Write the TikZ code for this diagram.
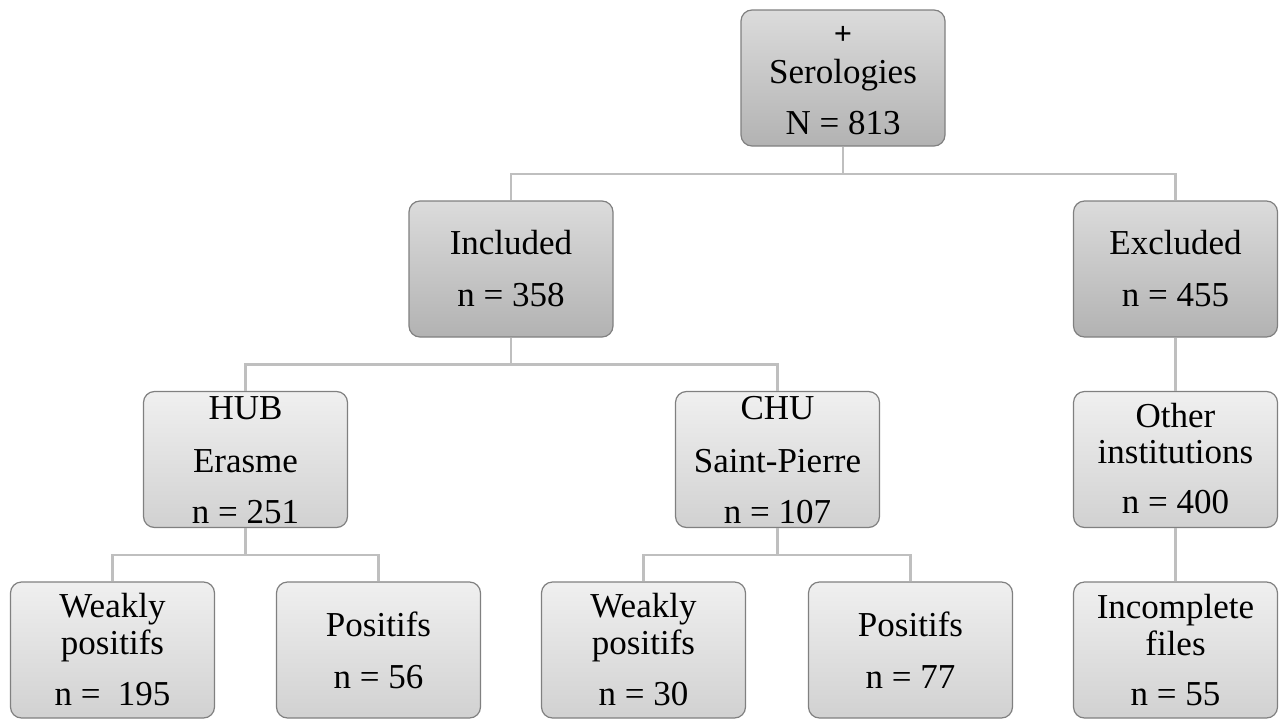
\documentclass[tikz,border=0pt]{standalone}
\usepackage{fontspec}
\setmainfont{Liberation Serif}
\begin{document}
\begin{tikzpicture}[x=1pt,y=-1pt,
  boxA/.style={draw=black!50, line width=1.2pt, rounded corners=11pt, top color=black!14, bottom color=black!30, minimum width=204pt, minimum height=136pt, inner sep=0pt},
  boxB/.style={draw=black!50, line width=1.2pt, rounded corners=11pt, top color=black!6, bottom color=black!18, minimum width=204pt, minimum height=136pt, inner sep=0pt},
  conn/.style={draw=black!25, line width=2.6pt},
  txt/.style={font=\fontsize{35}{42}\selectfont, inner sep=0pt, anchor=base},
  plus/.style={font=\fontsize{32}{38}\selectfont\bfseries, inner sep=0pt}]
\useasboundingbox (0,0) rectangle (1288,728);
% boxes
\node[boxA] (top) at (843,78) {};
\node[boxA] (inc) at (511,269) {};
\node[boxA] (exc) at (1175.5,269) {};
\node[boxB] (hub) at (245.5,459.5) {};
\node[boxB] (chu) at (777.5,459.5) {};
\node[boxB] (oth) at (1175.5,459.5) {};
\node[boxB] (w1) at (112.5,650) {};
\node[boxB] (p1) at (378.5,650) {};
\node[boxB] (w2) at (643.5,650) {};
\node[boxB] (p2) at (910.5,650) {};
\node[boxB] (icf) at (1175.5,650) {};
% connectors
\draw[conn] (top.south) -- ++(0,27.5) -| (inc.north);
\draw[conn] (top.south) -- ++(0,27.5) -| (exc.north);
\draw[conn] (inc.south) -- ++(0,27) -| (hub.north);
\draw[conn] (inc.south) -- ++(0,27) -| (chu.north);
\draw[conn] (exc.south) -- (oth.north);
\draw[conn] (hub.south) -- ++(0,27) -| (w1.north);
\draw[conn] (hub.south) -- ++(0,27) -| (p1.north);
\draw[conn] (chu.south) -- ++(0,27) -| (w2.north);
\draw[conn] (chu.south) -- ++(0,27) -| (p2.north);
\draw[conn] (oth.south) -- (icf.north);
% texts
\node[plus] (t0a) at (843,35) {+};
\node[txt] (t0b) at (843,83) {Serologies};
\node[txt] (t0c) at (843,134) {N = 813};
\node[txt] (t1a) at (511,254) {Included};
\node[txt] (t1b) at (511,306) {n = 358};
\node[txt] (t2a) at (1175.5,254) {Excluded};
\node[txt] (t2b) at (1175.5,306) {n = 455};
\node[txt] (t3a) at (245.5,419) {HUB};
\node[txt] (t3b) at (245.5,472) {Erasme};
\node[txt] (t3c) at (245.5,523) {n = 251};
\node[txt] (t4a) at (777.5,419) {CHU};
\node[txt] (t4b) at (777.5,472) {Saint-Pierre};
\node[txt] (t4c) at (777.5,523) {n = 107};
\node[txt] (t5a) at (1175.5,427) {Other};
\node[txt] (t5b) at (1175.5,463) {institutions};
\node[txt] (t5c) at (1175.5,513) {n = 400};
\node[txt] (t6a) at (112.5,617) {Weakly};
\node[txt] (t6b) at (112.5,654) {positifs};
\node[txt] (t6c) at (112.5,705) {n =\ \ 195};
\node[txt] (t7a) at (378.5,636) {Positifs};
\node[txt] (t7b) at (378.5,688) {n = 56};
\node[txt] (t8a) at (643.5,617) {Weakly};
\node[txt] (t8b) at (643.5,654) {positifs};
\node[txt] (t8c) at (643.5,705) {n = 30};
\node[txt] (t9a) at (910.5,636) {Positifs};
\node[txt] (t9b) at (910.5,688) {n = 77};
\node[txt] (t10a) at (1175.5,618) {Incomplete};
\node[txt] (t10b) at (1175.5,655) {files};
\node[txt] (t10c) at (1175.5,705) {n = 55};
\end{tikzpicture}
\end{document}
